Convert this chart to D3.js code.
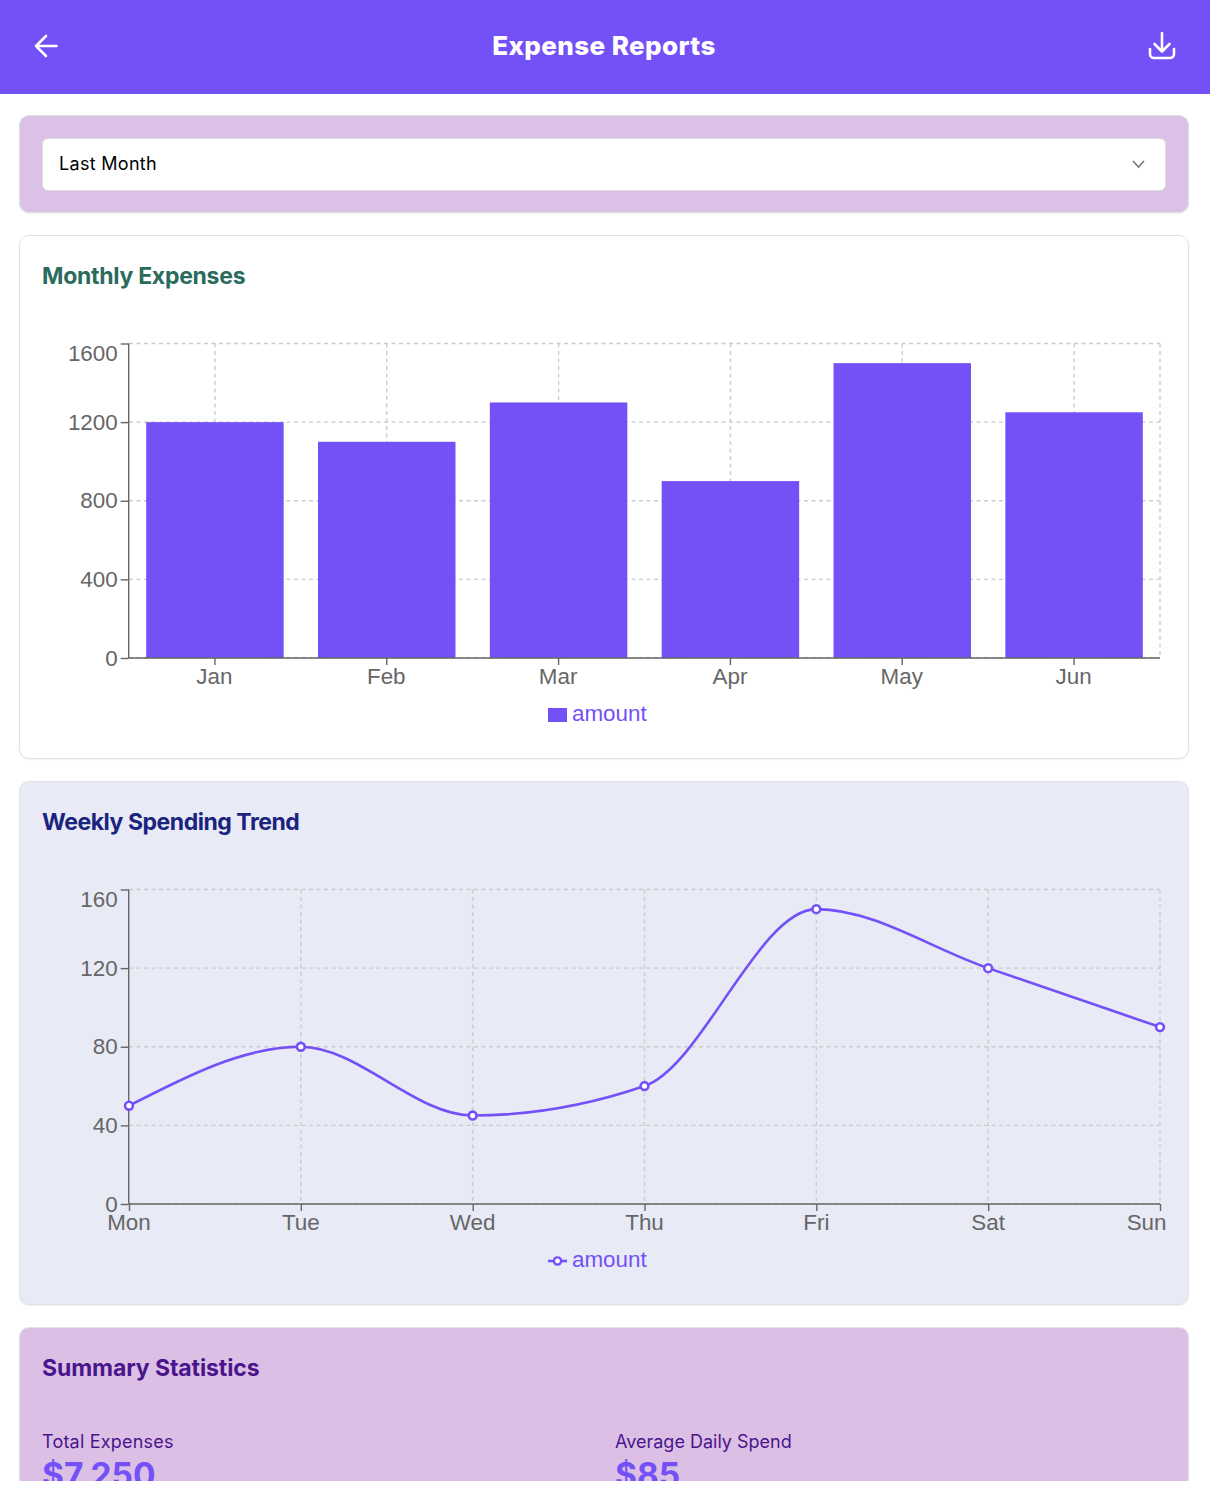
<!DOCTYPE html>
<html><head><meta charset="utf-8">
<script src="https://cdn.jsdelivr.net/npm/d3@7"></script>
<style>
html,body{margin:0;padding:0;background:#fff}
body{width:1210px;height:1494px;position:relative;overflow:hidden;font-family:Inter,sans-serif}
#clip{position:absolute;left:0;top:0;width:1210px;height:1481px;overflow:hidden}
.abs{position:absolute;white-space:nowrap}
.card{position:absolute;left:19px;width:1168px;border:1px solid #e2e2e2;border-radius:10px;box-sizing:content-box;box-shadow:0 1px 2px rgba(0,0,0,.06)}
.ttl{font-weight:700;font-size:23px;letter-spacing:-.28px;line-height:28px;left:42px}
svg{position:absolute;left:0;overflow:visible}
svg text{font-family:"Liberation Sans",sans-serif;font-size:22.4px;fill:#666}
</style></head><body><div id="clip">
<div class="abs" style="left:0;top:0;width:1210px;height:94px;background:#7450f7"></div>
<div class="abs" style="left:0;width:1210px;text-align:center;top:30px;line-height:32px;color:#fff;font-weight:800;font-size:26px;letter-spacing:.4px;padding-right:2px;box-sizing:border-box" id="headT"></div>
<svg style="top:0" width="1210" height="94" id="icons"></svg>
<div class="card" style="top:115px;height:96px;background:#dcc1e6"></div>
<div class="abs" style="left:42px;top:138px;width:1122px;height:51px;background:#fff;border:1px solid #ddd;border-radius:6px"></div>
<div class="abs" style="left:59px;top:152px;line-height:24px;font-size:18px;letter-spacing:.3px;color:#000" id="sel"></div>
<svg style="top:0" width="1210" height="200" id="chev"></svg>
<div class="card" style="top:235px;height:522px;background:#fff"></div>
<div class="abs ttl" style="top:262px;color:#2a6b5e" id="t1"></div>
<svg id="bar" style="top:0" width="1210" height="760"></svg>
<div class="card" style="top:781px;height:522px;background:#e8eaf6"></div>
<div class="abs ttl" style="top:808px;color:#1a237e;letter-spacing:-.47px" id="t2"></div>
<svg id="line" style="top:0" width="1210" height="1300"></svg>
<div class="card" style="top:1327px;height:300px;background:#dbbfe5"></div>
<div class="abs ttl" style="top:1354px;color:#4a148c;letter-spacing:-.1px" id="t3"></div>
<div class="abs" style="left:42px;top:1430px;line-height:24px;font-size:18px;letter-spacing:.2px;color:#4a148c" id="l1"></div>
<div class="abs" style="left:615px;top:1430px;line-height:24px;font-size:18px;color:#4a148c" id="l2"></div>
<div class="abs" style="left:42px;top:1456px;line-height:38px;font-size:33.5px;font-weight:700;color:#7450f7" id="v1"></div>
<div class="abs" style="left:615px;top:1456px;line-height:38px;font-size:33.5px;font-weight:700;color:#7450f7" id="v2"></div>
</div>
<script>
const months=["Jan","Feb","Mar","Apr","May","Jun"];
const monthly=[1200,1100,1300,900,1500,1250];
const days=["Mon","Tue","Wed","Thu","Fri","Sat","Sun"];
const weekly=[50,80,45,60,150,120,90];
const barTicks=[0,400,800,1200,1600];
const lineTicks=[0,40,80,120,160];
const seriesName="amount";
const purple="#7450f7";
const stats=[["Total Expenses","$7,250"],["Average Daily Spend","$85"]];
const setT=(id,t)=>document.getElementById(id).textContent=t;
setT("headT","Expense Reports");setT("sel","Last Month");
setT("t1","Monthly Expenses");setT("t2","Weekly Spending Trend");setT("t3","Summary Statistics");
setT("l1",stats[0][0]);setT("v1",stats[0][1]);setT("l2",stats[1][0]);setT("v2",stats[1][1]);

const ic=d3.select("#icons").append("g").attr("fill","none").attr("stroke","#fff").attr("stroke-width",2.6).attr("stroke-linecap","round").attr("stroke-linejoin","round");
ic.append("path").attr("d","M56.5 46H36M46 36L36 46L46 56");
ic.append("path").attr("d","M1162 33V51M1154.5 44L1162 51.5L1169.5 44M1150 49V54a4 4 0 0 0 4 4H1170a4 4 0 0 0 4-4V49");
d3.select("#chev").append("path").attr("d","M1133 161L1138.5 167L1144 161").attr("fill","none").attr("stroke","#777").attr("stroke-width",1.6);

const X0=129,X1=1160;
function frame(g,y,ticks,gridXs,top,bottom){
  const grid=g.append("g").attr("stroke","#ccc").attr("stroke-width",1.4).attr("stroke-dasharray","4 3.5").attr("fill","none");
  ticks.forEach(t=>grid.append("line").attr("x1",X0).attr("x2",X1).attr("y1",y(t)).attr("y2",y(t)));
  gridXs.forEach(x=>grid.append("line").attr("x1",x).attr("x2",x).attr("y1",top).attr("y2",bottom));
  const ya=g.append("g").attr("transform",`translate(${X0-.3},0)`).call(d3.axisLeft(y).tickValues(ticks).tickFormat(d3.format("d")).tickSize(6).tickPadding(4));
  ya.selectAll("path,line").attr("stroke","#666").attr("stroke-width",1.4);
  ya.selectAll("line").attr("x2",-8).attr("y1",0).attr("y2",0);
  ya.select("path").attr("d",`M0,${top}V${bottom}`);
  ya.selectAll("text").attr("dy",t=>t===ticks[ticks.length-1]?"0.78em":"0.32em").attr("x",-11);
  ya.attr("font-size",null).attr("font-family",null);
}
function legend(g,x,y,draw){
  draw(g);
  g.append("text").attr("x",572).attr("y",y).attr("dy","0.3em").style("fill",purple).text(seriesName);
}
function xAxis(g,x,y0,pad){
  const xa=g.append("g").attr("transform",`translate(0,${y0})`).call(d3.axisBottom(x).tickSize(7).tickPadding(pad));
  xa.selectAll("path,line").attr("stroke","#666").attr("stroke-width",1.4);
  xa.selectAll("line").attr("x1",0).attr("x2",0);
  xa.select("path").attr("d",`M${X0},0H${X1}`);
  xa.selectAll("text").attr("dy","0.71em").attr("text-anchor",d=>d==="Sun"?"end":"middle").attr("dx",d=>d==="Sun"?6:-0.5);
  xa.attr("font-size",null).attr("font-family",null);
}
// bar chart
{
  const g=d3.select("#bar");
  const y=d3.scaleLinear().domain([0,1600]).range([658,343.5]);
  const x=d3.scaleBand().domain(months).range([X0,X1]).paddingInner(.2).paddingOuter(.1);
  const cx=m=>x(m)+x.bandwidth()/2;
  frame(g,y,barTicks,[...months.map(cx),X1],343.5,658);
  g.selectAll("rect.b").data(monthly).join("rect").attr("class","b").attr("x",(d,i)=>x(months[i])).attr("width",x.bandwidth()).attr("y",d=>y(d)).attr("height",d=>658-y(d)).attr("fill",purple);
  xAxis(g,x,658,3);
  legend(g,548,714,s=>s.append("rect").attr("x",548).attr("y",708).attr("width",19).attr("height",14).attr("fill",purple));
}
// line chart
{
  const g=d3.select("#line");
  const y=d3.scaleLinear().domain([0,160]).range([1204,889.5]);
  const x=d3.scalePoint().domain(days).range([X0,X1]);
  frame(g,y,lineTicks,days.slice(1).map(x),889.5,1204);
  xAxis(g,x,1204,3);
  const ln=d3.line().x((d,i)=>x(days[i])).y(d=>y(d)).curve(d3.curveMonotoneX);
  g.append("path").attr("d",ln(weekly)).attr("fill","none").attr("stroke",purple).attr("stroke-width",2.6);
  g.selectAll("circle.p").data(weekly).join("circle").attr("class","p").attr("cx",(d,i)=>x(days[i])).attr("cy",d=>y(d)).attr("r",3.9).attr("fill","#fff").attr("stroke",purple).attr("stroke-width",2.6);
  legend(g,548,1260,s=>{
    s.append("line").attr("x1",548).attr("x2",567).attr("y1",1261).attr("y2",1261).attr("stroke",purple).attr("stroke-width",2.6);
    s.append("circle").attr("cx",557.5).attr("cy",1261).attr("r",3.6).attr("fill","#fff").attr("stroke",purple).attr("stroke-width",2.4);
  });
}
</script></body></html>
